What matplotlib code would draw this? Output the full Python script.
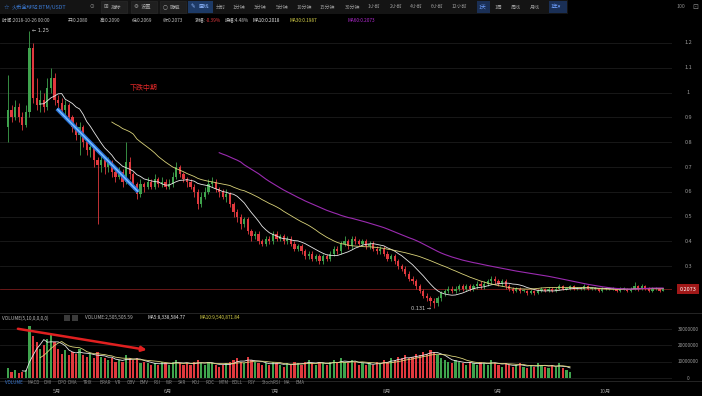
######
# BTM/USDT daily K-line screenshot recreation
######

# Importing packages
import matplotlib
matplotlib.use('Agg')
import matplotlib.pyplot as plt
from matplotlib.patches import Rectangle
import pandas as pd

plt.rcParams['font.family'] = ['Noto Sans CJK SC', 'DejaVu Sans']

W, H = 702, 396

# Daily candles (open of each day = previous close)
first_open = 0.86
closes = [0.93, 0.90, 0.94, 0.90, 0.87, 0.92, 1.18, 0.98, 0.95, 0.97,
          0.94, 1.02, 1.06, 0.97, 0.96, 0.93, 0.95, 0.90, 0.86, 0.83,
          0.86, 0.80, 0.77, 0.78, 0.73, 0.71, 0.73, 0.70, 0.72, 0.68,
          0.66, 0.68, 0.64, 0.72, 0.67, 0.63, 0.59, 0.63, 0.62, 0.64,
          0.62, 0.65, 0.63, 0.64, 0.62, 0.63, 0.66, 0.70, 0.67, 0.65,
          0.64, 0.62, 0.60, 0.55, 0.58, 0.60, 0.63, 0.64, 0.61, 0.60,
          0.58, 0.59, 0.55, 0.52, 0.50, 0.47, 0.49, 0.44, 0.42, 0.43,
          0.40, 0.39, 0.41, 0.40, 0.43, 0.41, 0.42, 0.40, 0.41, 0.39,
          0.37, 0.38, 0.36, 0.34, 0.35, 0.33, 0.34, 0.32, 0.34, 0.33,
          0.35, 0.37, 0.36, 0.39, 0.40, 0.38, 0.41, 0.40, 0.39, 0.40,
          0.38, 0.39, 0.37, 0.36, 0.37, 0.35, 0.33, 0.34, 0.32, 0.30,
          0.29, 0.27, 0.25, 0.24, 0.22, 0.20, 0.18, 0.17, 0.16, 0.15,
          0.17, 0.19, 0.20, 0.21, 0.20, 0.21, 0.22, 0.21, 0.22, 0.21,
          0.22, 0.23, 0.22, 0.23, 0.24, 0.25, 0.24, 0.23, 0.24, 0.22,
          0.21, 0.20, 0.21, 0.20, 0.20, 0.19, 0.20, 0.19, 0.20, 0.21,
          0.20, 0.21, 0.20, 0.21, 0.22, 0.21, 0.21, 0.22, 0.21, 0.21,
          0.21, 0.22, 0.21, 0.21, 0.21, 0.20, 0.21, 0.21, 0.21, 0.21,
          0.20, 0.21, 0.21, 0.20, 0.21, 0.22, 0.21, 0.22, 0.21, 0.20,
          0.21, 0.21, 0.20, 0.2073]
highs = [1.07, .95, .97, .96, .92, .95, 1.25, 1.20, 1.06, 1.01,
         1.00, 1.06, 1.10, 1.08, .99, .98, .97, .96, .91, .88,
         .88, .87, .82, .80, .79, .74, .75, .74, .74, .73,
         .70, .70, .69, .80, .74, .68, .64, .65, .64, .66,
         .65, .67, .66, .66, .65, .65, .68, .72, .71, .68,
         .66, .65, .63, .61, .60, .62, .65, .66, .65, .62,
         .61, .61, .60, .56, .53, .51, .50, .50, .45, .44,
         .44, .41, .42, .42, .44, .44, .43, .43, .42, .42,
         .40, .39, .39, .37, .36, .36, .35, .35, .35, .35,
         .36, .38, .38, .40, .42, .41, .42, .42, .41, .41,
         .41, .40, .40, .38, .38, .38, .36, .35, .35, .33,
         .31, .30, .28, .26, .25, .23, .21, .19, .18, .17,
         .18, .20, .21, .22, .22, .22, .23, .23, .23, .23,
         .23, .24, .24, .24, .25, .26, .26, .25, .25, .25,
         .23, .218, .218, .215, .207, .205, .207, .206, .208, .217,
         .214, .218, .215, .217, .228, .225, .216, .226, .225, .215,
         .216, .227, .224, .215, .216, .214, .216, .215, .216, .215,
         .214, .216, .215, .214, .217, .235, .226, .228, .225, .215,
         .216, .215, .214, .209]
lows = [.80, .88, .89, .88, .85, .86, .90, .96, .93, .92,
        .92, .93, 1.00, .95, .93, .91, .91, .88, .84, .81,
        .75, .78, .75, .74, .70, .47, .68, .67, .68, .66,
        .64, .65, .62, .63, .65, .61, .57, .58, .60, .61,
        .61, .61, .62, .62, .61, .61, .62, .65, .66, .64,
        .62, .61, .58, .53, .54, .57, .59, .62, .60, .58,
        .57, .56, .54, .50, .48, .45, .46, .43, .40, .41,
        .39, .38, .38, .39, .39, .40, .40, .39, .39, .38,
        .36, .36, .35, .33, .33, .32, .32, .31, .31, .32,
        .32, .34, .35, .35, .38, .37, .37, .39, .38, .38,
        .37, .37, .36, .35, .35, .34, .32, .32, .31, .29,
        .28, .26, .24, .23, .21, .19, .17, .16, .14, .131,
        .14, .16, .18, .19, .19, .19, .20, .20, .20, .20,
        .20, .21, .21, .21, .22, .23, .23, .22, .22, .21,
        .20, .192, .195, .193, .194, .185, .186, .184, .186, .196,
        .195, .196, .194, .196, .205, .205, .204, .205, .204, .205,
        .203, .205, .204, .204, .205, .195, .196, .205, .204, .205,
        .196, .195, .204, .195, .196, .205, .200, .205, .203, .195,
        .196, .204, .196, .198]

# Daily volume in millions (the volume pane stops earlier than the price pane)
volumes = [6, 4, 5, 3, 4, 5, 32, 26, 22, 18,
           20, 24, 27, 22, 18, 15, 17, 14, 16, 15,
           18, 14, 13, 15, 12, 16, 13, 12, 11, 12,
           10, 11, 10, 14, 12, 11, 12, 9, 10, 9,
           8, 9, 8, 10, 9, 8, 10, 11, 9, 8,
           9, 8, 10, 11, 9, 8, 10, 9, 8, 7,
           8, 9, 10, 11, 12, 10, 9, 13, 11, 10,
           9, 8, 9, 8, 10, 9, 8, 7, 9, 8,
           10, 9, 8, 10, 11, 9, 8, 10, 9, 8,
           10, 11, 9, 12, 10, 9, 11, 10, 8, 9,
           8, 9, 8, 10, 9, 11, 10, 12, 11, 13,
           12, 14, 12, 13, 15, 14, 16, 15, 17, 16,
           14, 12, 11, 10, 9, 11, 10, 9, 8, 10,
           9, 8, 10, 9, 8, 11, 9, 8, 7, 9,
           8, 7, 8, 9, 7, 6, 8, 7, 9, 8,
           7, 6, 8, 7, 9, 6, 5, 4]

price_ticks = [0.3, 0.4, 0.5, 0.6, 0.7, 0.8, 0.9, 1.0, 1.1, 1.2]
price_tick_labels = ['0.3', '0.4', '0.5', '0.6', '0.7', '0.8', '0.9', '1', '1.1', '1.2']
volume_ticks = [0, 10, 20, 30]
volume_tick_labels = ['0', '10000000', '20000000', '30000000']
month_pos = [13.7, 44.7, 74.6, 105.9, 136.9, 166.8]
month_labels = ['5月', '6月', '7月', '8月', '9月', '10月']
last_price = 0.2073

RED = '#e0393e'
GREEN = '#3fa34d'
GRID = '#1c1c1c'
SYM = ['DejaVu Sans', 'Noto Sans CJK SC']


def px_axes(fig, left, top, right, bottom):
    """Add an axes given in screenshot pixel coordinates."""
    ax = fig.add_axes([left / W, 1 - bottom / H, (right - left) / W, (bottom - top) / H])
    ax.set_facecolor('black')
    for s in ax.spines.values():
        s.set_visible(False)
    ax.set_xticks([])
    ax.set_yticks([])
    return ax


def ftext(fig, x, y, s, **kw):
    """Figure text in pixel coordinates."""
    kw.setdefault('va', 'center')
    kw.setdefault('fontsize', 4.0)
    kw.setdefault('color', '#bdbdbd')
    fig.text(x / W, 1 - y / H, s, **kw)


def box(fig, x0, y0, w, h, **kw):
    fig.patches.append(Rectangle((x0 / W, 1 - (y0 + h) / H), w / W, h / H,
                                 transform=fig.transFigure, **kw))


def draw_candles(ax, opens, closes, highs, lows):
    idx = list(range(len(closes)))
    cols = [GREEN if c >= o else RED for o, c in zip(opens, closes)]
    ax.vlines(idx, lows, highs, colors=cols, linewidth=0.6)
    bottoms = [min(o, c) for o, c in zip(opens, closes)]
    heights = [max(abs(c - o), 0.003) for o, c in zip(opens, closes)]
    ax.bar(idx, heights, bottom=bottoms, width=0.62, color=cols, linewidth=0)
    return cols


def main():
    fig = plt.figure(figsize=(W / 100, H / 100), dpi=100, facecolor='black')

    opens = [first_open] + closes[:-1]
    n = len(closes)
    xlim = (-8 / 3.58, (672 - 8) / 3.58)

    # ---- top toolbar ----
    bar = px_axes(fig, 0, 0, 568, 14)
    bar.set_facecolor('#141414')
    ftext(fig, 4, 7, '☆', color='#3b7bd6', fontsize=4.5, family=SYM)
    ftext(fig, 12, 7, '火币全球站:BTM/USDT', color='#3b7bd6', fontsize=3.8)
    ftext(fig, 90, 7, '⊙', color='#8a8a8a', family=SYM)
    for x0, sym, label in [(101, '⊞', '指标'), (131, '⚙', '设置'), (160, '○', '隐藏')]:
        box(fig, x0, 1.5, 26, 11, facecolor='#1f1f1f', edgecolor='#2c2c2c', linewidth=0.4)
        ftext(fig, x0 + 3, 7, sym, color='#a8a8a8', family=SYM)
        ftext(fig, x0 + 10, 7, label, color='#a8a8a8', fontsize=3.8)
    box(fig, 188, 1.5, 25, 11, facecolor='#1d3a66', linewidth=0)
    ftext(fig, 191, 7, '✎', color='#8fb8ff', family=SYM)
    ftext(fig, 199, 7, '画线', color='#8fb8ff', fontsize=3.8)
    periods = [(216, '分时'), (233, '1分钟'), (254, '3分钟'), (276, '5分钟'), (297, '10分钟'),
               (320, '15分钟'), (345, '30分钟'), (368, '1小时'), (390, '2小时'), (410, '4小时'),
               (431, '6小时'), (452, '12小时'), (479, '1天'), (495, '1周'), (511, '周线'),
               (530, '月线'), (551, '1年▾')]
    for x0, label in periods:
        col = '#9a9a9a'
        if label in ('1天', '1年▾'):
            box(fig, x0 - 2, 1.5, len(label) * 4.5 + 4, 11, facecolor='#1a2f55', linewidth=0)
            col = '#6fa0ff'
        ftext(fig, x0, 7, label, color=col, fontsize=3.6)
    ftext(fig, 676, 7, '100', color='#8a8a8a', fontsize=3.8)
    ftext(fig, 692, 7, '⊡', color='#8a8a8a', fontsize=5, family=SYM)

    # ---- info line ----
    info = [(2, '时间:2018-10-26 00:00', '#bdbdbd'), (68, '开:0.2080', '#bdbdbd'),
            (100, '高:0.2090', '#bdbdbd'), (132, '低:0.2069', '#bdbdbd'),
            (163, '收:0.2073', '#bdbdbd'), (195, '涨幅:', '#bdbdbd'), (206, '-0.39%', RED),
            (225, '振幅:4.48%', '#bdbdbd'), (253, 'MA10:0.2018', '#e6e6e6'),
            (290, 'MA30:0.1987', '#d8d24a'), (348, 'MA60:0.2073', '#b12ad0')]
    for x0, s, col in info:
        ftext(fig, x0, 20, s, color=col, fontsize=3.4)

    # ---- price pane ----
    ax = px_axes(fig, 0, 26, 672, 312)
    ax.set_xlim(*xlim)
    ax.set_ylim(0.2 - 21 / 248, 0.2 + 265 / 248)
    for t, lab in zip(price_ticks, price_tick_labels):
        ax.axhline(t, color=GRID, linewidth=0.6, zorder=0)
        ax.text(1.024, t, lab, transform=ax.get_yaxis_transform(), ha='center', va='center',
                fontsize=4, color='#9a9a9a', clip_on=False)
    ax.axhline(last_price, color='#7a1c1c', linewidth=0.6, zorder=0)

    draw_candles(ax, opens, closes, highs, lows)

    ma = pd.Series(closes)
    ax.plot(range(n), ma.rolling(10).mean(), color='#e8e8e8', linewidth=0.6)
    ax.plot(range(n), ma.rolling(30).mean(), color='#d9d27a', linewidth=0.6)
    ax.plot(range(n), ma.rolling(60).mean(), color='#9b2bb0', linewidth=0.8)

    # max / min markers
    i_hi = highs.index(max(highs))
    i_lo = lows.index(min(lows))
    ax.text(i_hi + 0.8, max(highs), '← %.2f' % max(highs), fontsize=3.6, color='#d0d0d0',
            va='center', family=SYM)
    ax.text(i_lo - 0.8, min(lows), '%.3f →' % min(lows), fontsize=3.6, color='#d0d0d0',
            va='center', ha='right', family=SYM)

    # drawn trend line and note
    ax.plot([13.7, 36.4], [0.935, 0.60], color='#2a72d8', linewidth=3.0, solid_capstyle='butt')
    ax.plot([13.7, 36.4], [0.935, 0.60], color='#7cc0ff', linewidth=1.0, solid_capstyle='butt')
    ax.text(34.0, 1.02, '下跌中期', color='#e02828', fontsize=5, va='center')

    # last price tag
    ax.text(1.024, last_price, '%.4f' % last_price, transform=ax.get_yaxis_transform(),
            ha='center', va='center', fontsize=4, color='white', clip_on=False,
            bbox=dict(boxstyle='square,pad=0.5', facecolor='#a01818', edgecolor='none'))

    # pane separators
    for y in (312.5, 380.5):
        fig.add_artist(plt.Line2D([0, 1], [1 - y / H] * 2, color='#2a2a2a', linewidth=0.6))

    # ---- volume pane ----
    vol_hdr = [(2, 'VOLUME(5,10,0,0,0,0)', '#bdbdbd'), (85, 'VOLUME:2,505,505.59', '#bdbdbd'),
               (147, 'MA5:8,338,584.77', '#e6e6e6'), (200, 'MA10:9,540,871.84', '#d8d24a')]
    for x0, s, col in vol_hdr:
        ftext(fig, x0, 318, s, color=col, fontsize=3.4)
    for x0 in (64, 72):
        box(fig, x0, 315, 6, 6, facecolor='#3a3a3a', linewidth=0)

    vx = px_axes(fig, 0, 314, 672, 379)
    vx.set_xlim(*xlim)
    vx.set_ylim(-0.6, 39.3)
    nv = len(volumes)
    vcols = [GREEN if c >= o else RED for o, c in zip(opens[:nv], closes[:nv])]
    vx.bar(range(nv), volumes, width=0.62, color=vcols, linewidth=0)
    vs = pd.Series(volumes)
    vx.plot(range(nv), vs.rolling(5).mean(), color='#e8e8e8', linewidth=0.6)
    vx.plot(range(nv), vs.rolling(10).mean(), color='#d9d27a', linewidth=0.6)
    for t, lab in zip(volume_ticks, volume_tick_labels):
        vx.axhline(t, color=GRID, linewidth=0.6, zorder=0)
        vx.text(1.024, t, lab, transform=vx.get_yaxis_transform(), ha='center', va='center',
                fontsize=3.4, color='#9a9a9a', clip_on=False)
    vx.annotate('', xy=(39.5, 17.0), xytext=(2.0, 30.5),
                arrowprops=dict(arrowstyle='-|>', color='#e02020', linewidth=1.8,
                                mutation_scale=7))

    # ---- indicator tabs and months ----
    tabs = [(5, 'VOLUME'), (27, 'MACD'), (43, 'DMI'), (57, 'DPO'), (68, 'DMA'), (83, 'TRIX'),
            (99, 'BRAR'), (115, 'VR'), (127, 'OBV'), (139, 'EMV'), (153, 'RSI'), (166, 'WR'),
            (178, 'SAR'), (191, 'KDJ'), (205, 'ROC'), (218, 'MTM'), (231, 'BOLL'), (248, 'PSY'),
            (262, 'StochRSI'), (284, 'MA'), (295, 'EMA')]
    for x0, s in tabs:
        ftext(fig, x0, 382.5, s, color='#3b7bd6' if s == 'VOLUME' else '#8a8a8a', fontsize=3.2)

    mx = px_axes(fig, 0, 386, 672, 396)
    mx.set_xlim(*xlim)
    mx.set_ylim(0, 1)
    for p, lab in zip(month_pos, month_labels):
        mx.text(p, 0.45, lab, ha='center', va='center', fontsize=3.8, color='#9a9a9a')

    fig.savefig('out.png', dpi=100, facecolor='black')
    plt.close(fig)


if __name__ == "__main__":
    main()
